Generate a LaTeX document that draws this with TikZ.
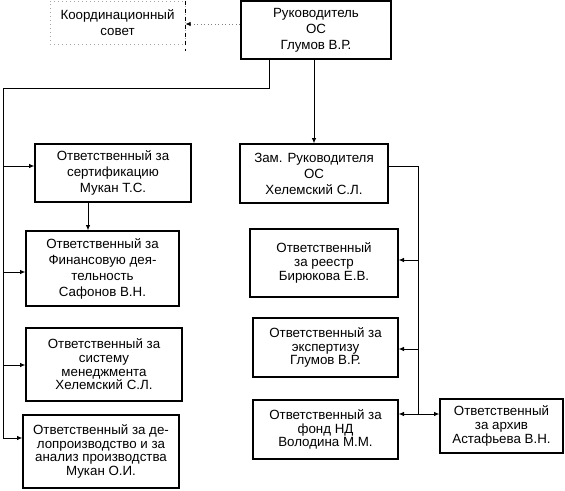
\documentclass[tikz,border=0pt]{standalone}
\usepackage{fontspec}
\setmainfont{Liberation Sans}
\usetikzlibrary{arrows.meta}

\tikzset{
  unit/.style={draw, line width=1pt, align=center, inner sep=0pt,
    font=\fontsize{10}{12}\selectfont},
  tight/.style={font=\fontsize{10}{10.2}\selectfont},
  boxsize/.style 2 args={minimum width=#1*0.75pt, minimum height=#2*0.75pt},
  link/.style={line width=0.6pt, -{Latex[length=4pt,width=3.4pt]}},
}

\begin{document}
\begin{tikzpicture}[x=0.75pt, y=-0.75pt]
\useasboundingbox (0,0) rectangle (565,490);

% top level
\node[unit, boxsize={135}{43}, draw=gray!70, dotted, line width=0.6pt] (coord) at (117.5,22.5) {Координационный\\совет};
\draw[dashed, line width=0.7pt] (coord.north east) -- (coord.south east) -- ++(0,7);
\node[unit, boxsize={150}{58}, line width=1.8pt] (head) at (316,30) {Руководитель\\ОС\\Глумов В.Р.};

% left column
\node[unit, boxsize={156}{58}] (cert) at (113,173) {Ответственный за\\сертификацию\\Мукан Т.С.};
\node[unit, boxsize={153}{75}] (fin) at (102.5,268.5) {Ответственный за\\Финансовую дея-\\тельность\\Сафонов В.Н.};
\node[unit, tight, boxsize={156}{73}] (mgmt) at (104,364.5) {Ответственный за\\систему\\менеджмента\\Хелемский С.Л.};
\node[unit, tight, boxsize={156}{73}] (doc) at (101,451.5) {Ответственный за де-\\лопроизводство и за\\анализ производства\\Мукан О.И.};

% right column
\node[unit, boxsize={148}{59}] (deputy) at (314,173.5) {Зам. Руководителя\\ОС\\Хелемский С.Л.};
\node[unit, tight, boxsize={148}{68}] (registry) at (324,263) {Ответственный\\за реестр\\Бирюкова Е.В.};
\node[unit, tight, boxsize={145}{59}] (expert) at (325.5,347.5) {Ответственный за\\экспертизу\\Глумов В.Р.};
\node[unit, tight, boxsize={145}{59}] (fund) at (325.5,429.5) {Ответственный за\\фонд НД\\Володина М.М.};
\node[unit, tight, boxsize={123}{54}] (archive) at (501.5,426) {Ответственный\\за архив\\Астафьева В.Н.};

% bus points
\coordinate (c0) at (0,24);
\coordinate (lup) at (269,88);
\coordinate (ltop) at (3,88);
\coordinate (cf) at (88,0);
\coordinate (l1) at (3,166);
\coordinate (l2) at (3,272);
\coordinate (l3) at (3,365);
\coordinate (l4) at (3,438);
\coordinate (r0) at (418,166);
\coordinate (r1) at (418,260);
\coordinate (r2) at (418,349);
\coordinate (r3) at (418,414);

% connectors
\draw[link, gray, dotted, -{Latex[length=4pt,width=3.4pt,color=black]}] (c0 -| head.west) -- (c0 -| coord.east);
\draw[link] (deputy.north |- head.south) -- (deputy.north);
\draw[link] (head.south -| lup) |- (ltop) -- (l4) -- (l4 -| doc.west);
\foreach \t/\b in {l1/cert, l2/fin, l3/mgmt}
  \draw[link] (\t) -- (\t -| \b.west);
\draw[link] (cert.south -| cf) -- (fin.north -| cf);
\draw[line width=0.6pt] (r0 -| deputy.east) -- (r0) -- (r3);
\foreach \t/\b in {r1/registry, r2/expert, r3/fund}
  \draw[link] (\t) -- (\t -| \b.east);
\draw[link] (r3) -- (r3 -| archive.west);
\end{tikzpicture}
\end{document}
